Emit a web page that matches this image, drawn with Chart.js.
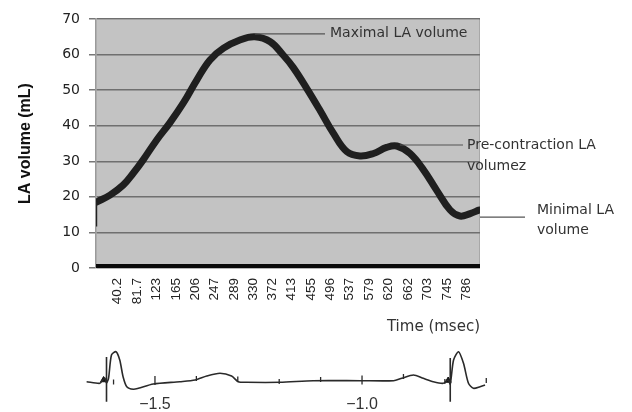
<!DOCTYPE html>
<html>
<head>
<meta charset="utf-8">
<script src="https://cdn.jsdelivr.net/npm/chart.js@4.4.1/dist/chart.umd.min.js"></script>
<style>
  html,body{margin:0;padding:0;background:#fff;}
  #wrap{position:relative;width:632px;height:412px;}
  #main{position:absolute;left:0;top:0;}
  #ecg{position:absolute;left:0;top:340px;}
</style>
</head>
<body>
<div id="wrap">
  <canvas id="main" width="632" height="412"></canvas>
  <canvas id="ecg" width="632" height="72"></canvas>
</div>
<script>
// ---------- data ----------
const xTickLabels = ["40.2","81.7","123","165","206","247","289","330","372","413","455","496","537","579","620","662","703","745","786"];
const yTickValues = [0,10,20,30,40,50,60,70];

const timeMs = [-4, 24, 52, 74, 95, 124, 152, 181, 210, 238, 267, 302, 334, 367, 395, 416, 445, 474, 502, 531, 559, 588, 616, 638, 666, 695, 723, 752, 773, 795, 814];
const laVolume = [18.6, 20.5, 23.3, 26.7, 30.4, 36.0, 40.8, 46.4, 52.9, 58.5, 61.8, 64.1, 65.0, 63.6, 59.8, 56.4, 50.5, 44.2, 37.9, 32.7, 31.5, 32.2, 33.9, 34.3, 32.2, 27.6, 21.9, 16.3, 14.6, 15.3, 16.3];

const startTimes = [-5, -5];
const startValues = [18.6, 11.7];

const baseTimes = [-6, 816];
const baseValues = [0, 0];

const annotations = {
  maximal: ["Maximal LA volume"],
  precontraction: ["Pre-contraction LA", "volumez"],
  minimal: ["Minimal LA", "volume"]
};

// ECG trace (seconds, arbitrary units)
const ecgTime = [-1.665, -1.633, -1.626, -1.621, -1.617, -1.612, -1.605, -1.594, -1.585, -1.577, -1.568, -1.552, -1.540, -1.504, -1.440, -1.403, -1.375, -1.343, -1.315, -1.299, -1.279, -1.198, -1.118, -1.005, -0.924, -0.904, -0.876, -0.852, -0.828, -0.804, -0.792, -0.787, -0.779, -0.767, -0.755, -0.743, -0.731, -0.715, -0.703];
const ecgValue = [0.13, -0.03, 0.30, 0.50, 0.00, 0.50, 2.80, 3.13, 2.30, 0.63, -0.37, -0.63, -0.53, -0.10, 0.13, 0.30, 0.70, 0.97, 0.70, 0.13, 0.07, 0.07, 0.23, 0.23, 0.23, 0.47, 0.80, 0.47, 0.13, -0.03, 0.30, -0.10, 2.30, 3.13, 1.97, -0.03, -0.53, -0.37, -0.20];
const spike1Time = [-1.617, -1.617];
const spike1Value = [2.6, -1.87];
const spike2Time = [-0.787, -0.787];
const spike2Value = [2.5, -1.87];
const qrsMarkTime = [-1.624, -0.792];
const qrsMarkValue = [0.30, 0.25];
const ecgTickTime = [-1.6, -1.5, -1.4, -1.3, -1.2, -1.1, -1.0, -0.9, -0.8, -0.7];
const ecgTickValue = [0.1, 0.25, 0.45, 0.4, 0.15, 0.35, 0.3, 0.65, 0.15, 0.25];
const ecgTickMajor = [false, true, false, false, false, false, true, false, false, false];
const ecgAxisLabels = [-1.5, -1.0];

// ---------- helpers ----------
const pts = (xs, ys) => xs.map((x, i) => ({x: x, y: ys[i]}));

const bgPlugin = {
  id: 'plotBg',
  beforeDraw(chart) {
    const a = chart.chartArea, c = chart.ctx;
    c.save();
    c.fillStyle = '#c3c3c3';
    c.fillRect(a.left, a.top, a.right - a.left, a.bottom - a.top);
    c.strokeStyle = '#d8d8d8';
    c.lineWidth = 1;
    c.beginPath();
    c.moveTo(a.left, a.top + 0.5); c.lineTo(a.right, a.top + 0.5);
    c.stroke();
    c.strokeStyle = '#a8a8a8';
    c.beginPath();
    c.moveTo(a.right - 0.5, a.top); c.lineTo(a.right - 0.5, a.bottom);
    c.stroke();
    c.restore();
  }
};

const annPlugin = {
  id: 'ann',
  afterDatasetsDraw(chart) {
    const xs = chart.scales.x, ys = chart.scales.y, c = chart.ctx, a = chart.chartArea;
    c.save();
    c.font = '14px "DejaVu Sans"';
    c.fillStyle = '#333';
    c.strokeStyle = '#555';
    c.lineWidth = 1.2;
    c.textBaseline = 'middle';
    c.textAlign = 'left';
    // maximal
    let iMax = 0;
    laVolume.forEach((v, i) => { if (v > laVolume[iMax]) iMax = i; });
    let px = xs.getPixelForValue(timeMs[iMax]), py = ys.getPixelForValue(laVolume[iMax]) - 3;
    c.beginPath(); c.moveTo(px, py); c.lineTo(325, py); c.stroke();
    c.fillText(annotations.maximal[0], 330, py);
    // pre-contraction (local max after 550 ms)
    let iPre = -1;
    timeMs.forEach((t, i) => { if (t > 550 && (iPre < 0 || laVolume[i] > laVolume[iPre])) iPre = i; });
    px = xs.getPixelForValue(timeMs[iPre]); py = ys.getPixelForValue(laVolume[iPre]) - 1;
    c.beginPath(); c.moveTo(px + 3, py); c.lineTo(463, py); c.stroke();
    c.fillText(annotations.precontraction[0], 467, py);
    c.fillText(annotations.precontraction[1], 467, py + 21);
    // minimal
    let iMin = timeMs.length - 1;
    timeMs.forEach((t, i) => { if (t > 700 && laVolume[i] < laVolume[iMin]) iMin = i; });
    py = ys.getPixelForValue(laVolume[iMin]) + 1;
    c.beginPath(); c.moveTo(a.right, py); c.lineTo(525, py); c.stroke();
    c.fillText(annotations.minimal[0], 537, py - 7);
    c.fillText(annotations.minimal[1], 537, py + 13);
    c.restore();
  }
};

new Chart(document.getElementById('main'), {
  type: 'line',
  data: {
    datasets: [
      {label: 'base', data: pts(baseTimes, baseValues), borderColor: '#0a0a0a', borderWidth: 8, pointRadius: 0, tension: 0},
      {label: 'start', data: pts(startTimes, startValues), borderColor: '#222', borderWidth: 1.5, pointRadius: 0, tension: 0},
      {label: 'LA volume', data: pts(timeMs, laVolume), borderColor: '#1f1f1f', borderWidth: 7, pointRadius: 0,
       tension: 0.4, borderCapStyle: 'round', borderJoinStyle: 'round'}
    ]
  },
  options: {
    responsive: false,
    animation: false,
    devicePixelRatio: 1,
    layout: {padding: {left: 0, top: 19, right: 152, bottom: 76}},
    plugins: {legend: {display: false}, tooltip: {enabled: false}},
    scales: {
      x: {
        type: 'linear', min: -6, max: 816,
        afterBuildTicks(s) { s.ticks = xTickLabels.map(l => ({value: parseFloat(l)})); },
        afterFit(s) { s.height = 68; },
        ticks: {
          autoSkip: false, minRotation: 90, maxRotation: 90, padding: 6, color: '#222',
          font: {family: '"Liberation Sans Narrow", "Liberation Sans", sans-serif', size: 13.5},
          callback(v) { const i = xTickLabels.findIndex(l => parseFloat(l) === v); return i >= 0 ? xTickLabels[i] : ''; }
        },
        grid: {display: false, drawTicks: true, tickLength: 4},
        border: {display: false},
        title: {display: true, text: 'Time (msec)', align: 'end', color: '#333', padding: {top: 0, bottom: 0},
                font: {family: '"DejaVu Sans"', size: 15}}
      },
      y: {
        min: 0, max: 70,
        afterBuildTicks(s) { s.ticks = yTickValues.map(v => ({value: v})); },
        afterFit(s) { s.width = 96; },
        ticks: {padding: 9, color: '#222', font: {family: '"DejaVu Sans"', size: 14}},
        grid: {color: '#6f6f6f', lineWidth: 1.5, tickLength: 7, tickColor: '#777'},
        border: {display: true, color: '#9a9a9a', width: 1.5},
        title: {display: true, text: 'LA volume (mL)', color: '#111', padding: {top: 16, bottom: 0},
                font: {family: '"Liberation Sans", Arial, sans-serif', size: 16, weight: 'bold'}}
      }
    }
  },
  plugins: [bgPlugin, annPlugin]
});

// ---------- ECG strip ----------
const ecgLabelPlugin = {
  id: 'ecgLabels',
  afterDraw(chart) {
    const xs = chart.scales.x, c = chart.ctx;
    c.save();
    c.font = '16px "Liberation Sans", Arial, sans-serif';
    c.fillStyle = '#333';
    c.textAlign = 'center';
    c.textBaseline = 'middle';
    ecgAxisLabels.forEach(v => {
      c.fillText('\u2212' + v.toFixed(1).replace('-', ''), xs.getPixelForValue(v), 65);
    });
    c.restore();
  }
};

new Chart(document.getElementById('ecg'), {
  type: 'line',
  data: {
    datasets: [
      {data: pts(ecgTime, ecgValue), borderColor: '#2a2a2a', borderWidth: 1.6, pointRadius: 0, tension: 0.25, clip: false},
      {data: pts(spike1Time, spike1Value), borderColor: '#2a2a2a', borderWidth: 1.6, pointRadius: 0, clip: false},
      {data: pts(spike2Time, spike2Value), borderColor: '#2a2a2a', borderWidth: 1.6, pointRadius: 0, clip: false},
      {type: 'scatter', data: pts(qrsMarkTime, qrsMarkValue), pointStyle: 'triangle', pointRadius: 3.5,
       backgroundColor: '#111', borderColor: '#111', clip: false},
      {type: 'scatter', data: pts(ecgTickTime, ecgTickValue), pointStyle: 'line', pointRotation: 90,
       pointRadius: ecgTickMajor.map(m => m ? 4.5 : 2.5), borderColor: '#2a2a2a', borderWidth: 1.3, clip: false}
    ]
  },
  options: {
    responsive: false,
    animation: false,
    devicePixelRatio: 1,
    layout: {padding: {left: 80, right: 142, top: 10, bottom: 17}},
    plugins: {legend: {display: false}, tooltip: {enabled: false}},
    scales: {
      x: {type: 'linear', min: -1.681, max: -0.691, display: false},
      y: {min: -1.2, max: 3.3, display: false}
    }
  },
  plugins: [ecgLabelPlugin]
});
</script>
</body>
</html>
